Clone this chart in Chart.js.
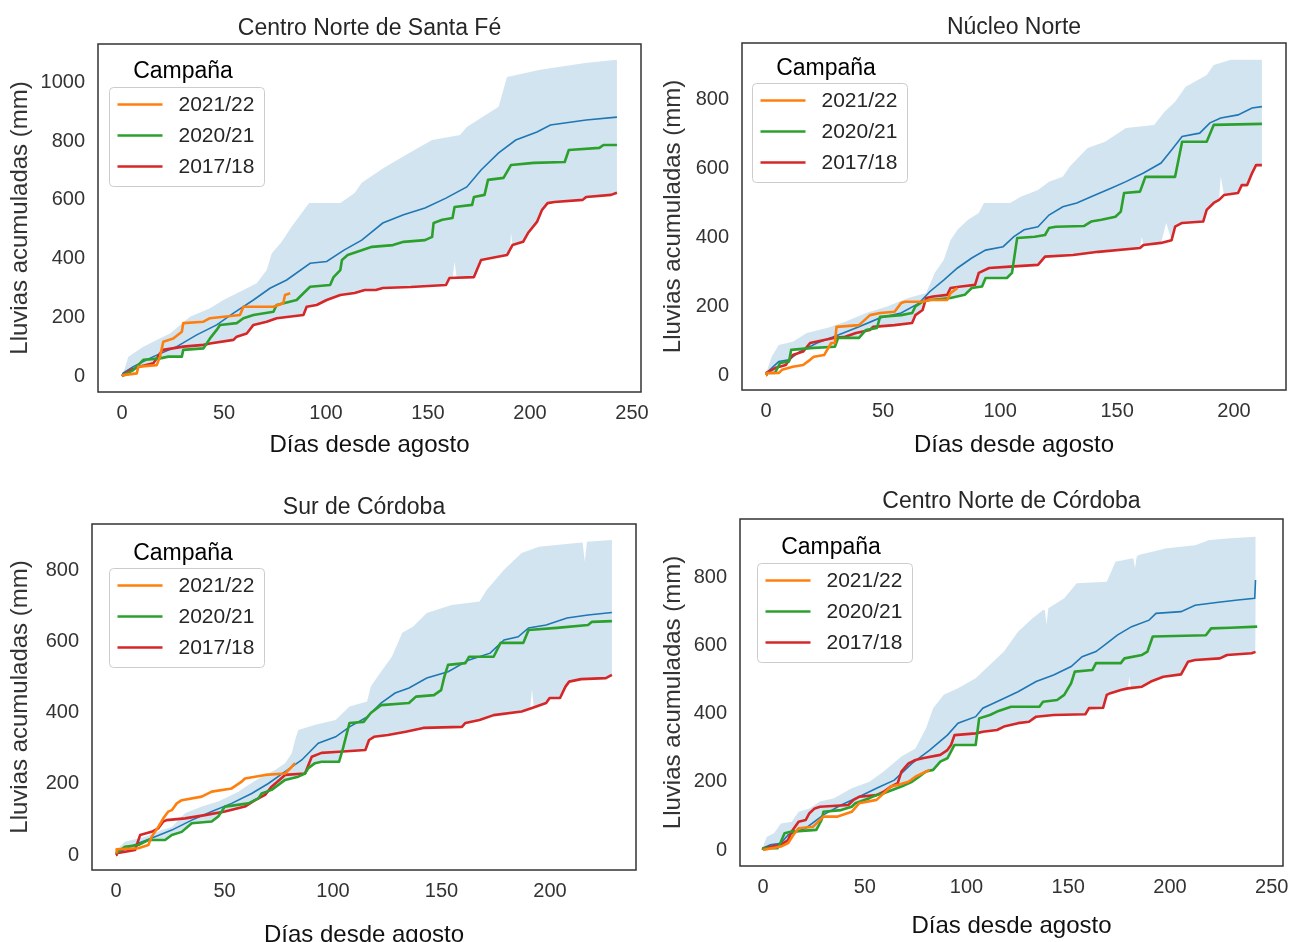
<!DOCTYPE html>
<html><head><meta charset="utf-8">
<script src="https://cdn.jsdelivr.net/npm/chart.js@4.4.1/dist/chart.umd.min.js"></script>
<style>
html,body{margin:0;padding:0;background:#fff;overflow:hidden;width:1293px;height:942px;position:relative;}
canvas{position:absolute;}
</style></head><body>
<canvas id="c1" width="655" height="470" style="left:0px;top:0px"></canvas>
<canvas id="c2" width="638" height="470" style="left:655px;top:0px"></canvas>
<canvas id="c3" width="655" height="490" style="left:0px;top:470px"></canvas>
<canvas id="c4" width="638" height="490" style="left:655px;top:470px"></canvas>
<script>
// ---------- texts ----------
const chartTitles = ['Centro Norte de Santa Fé', 'Núcleo Norte', 'Sur de Córdoba', 'Centro Norte de Córdoba'];
const xAxisTitle = 'Días desde agosto';
const yAxisTitle = 'Lluvias acumuladas (mm)';
const legendTitle = 'Campaña';
const campaigns = ['2021/22', '2020/21', '2017/18'];
const campaignColors = ['#ff7f0e', '#2ca02c', '#d62728'];

// ---------- ticks ----------
const xTicks250 = [0, 50, 100, 150, 200, 250];
const xTicks200 = [0, 50, 100, 150, 200];
const yTicks1000 = [0, 200, 400, 600, 800, 1000];
const yTicks800 = [0, 200, 400, 600, 800];

// ---------- Centro Norte de Santa Fé : [día, mm] ----------
const sf_mean = [[0,0],[0.5,10],[5.5,32],[15.3,66],[26.8,100],[36.6,140],[46.4,174],[54.6,214],[64.4,259],[72.5,299],[80.7,327],[92.2,384],[100.3,390],[108.8,429],[117.5,463],[127.8,521],[138,549],[148.5,572],[158.8,606],[169,644],[176,702],[184.6,760],[193,804],[203.4,831],[210,855],[227.5,872],[242.6,882]];
const sf_hi = [[0,0],[1,20],[3.1,66],[10.4,100],[17,123],[23.5,145],[33.3,202],[43.1,231],[49.7,259],[59.5,293],[66,316],[70.9,361],[73.4,418],[78,455],[83,508],[91.7,589],[107,589],[114,623],[117.5,658],[129,712],[141.6,763],[152,804],[165.7,821],[169,848],[184.6,917],[188.7,1019],[205,1043],[227,1066],[242.6,1077]];
const sf_lo = [[0,0],[3.9,15],[5.5,20],[8.8,32],[15.3,43],[18,55],[18.6,60],[22.7,66],[29.3,66],[30,89],[39.9,94],[43.1,111],[54.6,123],[56.2,134],[61.1,145],[64.4,174],[70.9,185],[75.8,197],[88.9,208],[90.5,236],[95.4,242],[100.3,259],[107,276],[114,283],[119,293],[124.4,293],[127.8,300],[141.6,303],[158.8,310],[160.5,334],[162,334],[163,388],[164,337],[172.5,337],[176,395],[181,402],[188.7,412],[190,412],[190.7,487],[191.4,446],[196.6,457],[199,487],[203.4,525],[205.9,566],[208.6,589],[212,593],[225.8,600],[227.5,610],[239.7,617],[242.6,624]];
const sf_2122 = [[0,0],[0.6,3],[7.2,9],[8,32],[17,37],[18.6,66],[20.2,117],[25.1,128],[29.3,151],[30,180],[39.9,185],[43.1,197],[57.8,208],[59.5,236],[74.2,236],[79,248],[79.9,276],[82.4,282]];
const sf_2021 = [[0,0],[5.5,20],[10.4,55],[18.6,60],[22.7,66],[29.3,66],[30,89],[39.9,94],[43.1,128],[46.4,157],[48,174],[56.2,180],[59.5,197],[64.4,208],[74.2,219],[75.8,242],[85.6,259],[88.9,282],[92.2,304],[102,310],[103.7,337],[107,361],[107.8,395],[110.6,412],[122.5,440],[132.8,446],[138,457],[148.5,463],[152,474],[152.7,521],[157,532],[162,538],[163,576],[171.6,583],[172.5,610],[177.7,617],[179.4,668],[187,675],[190.7,719],[201.8,726],[217,729],[219,770],[234,777],[236,787],[242.6,787]];
const sf_1718 = [[0,0],[3.9,20],[8.8,32],[15.3,43],[18.6,77],[20.2,89],[30,100],[39.9,106],[43.1,111],[54.6,123],[56.2,134],[61.1,145],[64.4,174],[70.9,185],[75.8,197],[88.9,208],[90.5,236],[95.4,242],[100.3,259],[107,276],[114,283],[119,293],[124.4,293],[127.8,300],[141.6,303],[158.8,310],[160.5,334],[172.5,337],[176,395],[181,402],[188.7,412],[191.4,446],[196.6,457],[199,487],[203.4,525],[205.9,566],[208.6,589],[212,593],[225.8,600],[227.5,610],[239.7,617],[242.6,624]];

// ---------- Núcleo Norte ----------
const nn_mean = [[0,5],[5.4,39],[9.8,44],[14.4,68],[21.8,93],[30.8,116],[39.7,140],[48.7,166],[57.7,180],[65.4,209],[69.9,242],[75.9,276],[81.8,311],[87.9,340],[93.8,363],[101.3,373],[105.9,402],[110.3,422],[116.2,431],[120.9,465],[126.8,489],[132.8,500],[138.9,518],[147.9,544],[153.8,562],[161.3,587],[168.8,616],[173.3,654],[177.8,693],[185.3,703],[189.7,733],[194.3,747],[201.7,756],[207.7,776],[211.9,780]];
const nn_hi = [[0,5],[2.4,53],[5.4,87],[11.4,97],[17.4,122],[26.4,137],[33.8,155],[42.7,180],[51.7,199],[60.7,224],[68.4,238],[72.1,297],[75.9,334],[78.8,392],[81.8,422],[86.3,451],[90.9,471],[93.1,500],[104.3,500],[108.8,518],[116.2,538],[120.9,562],[126.8,576],[129.8,606],[137.4,660],[144.9,678],[153.8,718],[165.8,727],[170.3,765],[174.8,794],[179.3,838],[188.3,872],[191.3,901],[198.7,916],[211.9,916]];
const nn_lo = [[0,0],[3.8,6],[6,35],[9.8,39],[10.7,73],[15.8,68],[18.8,78],[29.4,82],[30.8,108],[39.7,108],[42.7,131],[45.7,137],[48.7,140],[54.9,145],[62.4,151],[63.8,174],[66.9,189],[67.8,213],[69.9,218],[78.8,224],[84.9,233],[87.9,253],[92.3,257],[93.8,282],[102.9,282],[105.1,297],[105.6,315],[116.2,320],[119.2,344],[131.2,349],[141.9,358],[159.8,369],[160.6,402],[161.3,378],[168.8,384],[171,442],[173.3,392],[174.8,431],[177.8,442],[186.8,446],[188.3,480],[191.3,500],[193.6,509],[194.3,577],[195.7,523],[201.7,529],[203.3,552],[205.6,552],[207.7,587],[209.4,610],[211.9,610]];
const nn_2122 = [[0,0],[0.1,6],[5.4,6],[6.8,15],[11.4,24],[15.8,29],[18.8,44],[20.4,53],[24.8,58],[27.8,93],[29.4,93],[30.1,140],[39.7,145],[44.4,174],[48.7,180],[54.9,184],[57.7,209],[59.4,213],[66.9,213],[69.9,218],[77.4,218],[78.8,238],[81.8,253]];
const nn_2021 = [[0,0],[0.1,6],[3.8,6],[6,35],[9.8,39],[10.7,73],[18.8,78],[29.4,82],[30.8,108],[39.7,108],[42.7,131],[47.4,137],[48.7,169],[57.7,174],[62.4,180],[63.8,199],[66.9,213],[69.9,218],[78.8,224],[84.9,233],[87.9,253],[92.3,257],[93.8,282],[102.9,282],[105.1,297],[105.9,334],[107.3,398],[114.8,402],[119.2,407],[120.9,427],[123.8,431],[135.8,433],[138.9,446],[143.3,451],[149.3,460],[151.6,475],[153,529],[159.8,533],[162.1,576],[174.8,576],[177.8,678],[188.3,678],[191.3,727],[211.9,730]];
const nn_1718 = [[0,0],[0.1,6],[3.8,20],[8.4,29],[11.4,58],[15.8,68],[18.8,93],[24.8,102],[29.4,108],[33.8,111],[38.4,122],[44.4,131],[45.7,140],[54.9,145],[62.4,151],[63.8,174],[66.9,189],[68.4,224],[71.4,228],[77.4,233],[78.8,253],[83.3,257],[89.3,262],[90.9,297],[95.3,311],[104.3,315],[116.2,320],[119.2,344],[131.2,349],[141.9,358],[159.8,369],[161.3,378],[168.8,384],[173.3,392],[174.8,431],[177.8,442],[186.8,446],[188.3,480],[191.3,500],[193.6,509],[195.7,523],[201.7,529],[203.3,552],[205.6,552],[207.7,587],[209.4,610],[211.9,610]];

// ---------- Sur de Córdoba ----------
const sc_mean = [[0,5],[10.3,33],[18,51],[25.7,70],[34.9,98],[44.1,122],[53.3,145],[62.5,173],[70.2,201],[77.9,234],[85.6,267],[93.2,314],[101.2,332],[107.6,360],[115.7,388],[122.1,427],[128.6,455],[135,469],[143.2,497],[153,515],[162.7,548],[172.4,567],[178.8,604],[185.3,613],[190.1,638],[198.2,646],[207.8,666],[217.5,674],[228.5,681]];
const sc_hi = [[0,9],[0.3,14],[4.1,37],[13.4,51],[21.1,70],[25.7,79],[31.8,117],[39.5,136],[47.1,150],[56.4,178],[61,197],[67.1,220],[73.3,239],[77.9,258],[81,286],[82.5,323],[84,351],[91.5,365],[101.2,379],[107.6,417],[115.7,431],[117.4,473],[122.1,515],[127.1,557],[131.9,624],[136.8,641],[143.2,680],[154.6,702],[167.5,712],[170.7,744],[178.8,801],[186.9,848],[194.9,866],[211,876],[215,878],[216,824],[217,880],[228.5,885]];
const sc_lo = [[0,0],[4.1,9],[8.8,14],[10.3,28],[14.9,42],[22.6,42],[25.7,56],[30.3,65],[34.9,89],[41,94],[44.1,94],[47.1,108],[50.2,122],[59.4,136],[61,140],[64.1,154],[65.6,159],[67.1,165],[68.7,169],[71.7,183],[74.8,197],[77.9,211],[84,220],[87.1,229],[88.6,244],[91.7,258],[94.7,262],[102.8,262],[104.4,291],[114.9,295],[116.6,323],[118.9,332],[125.3,337],[133.5,346],[141.6,357],[159.4,360],[161,371],[167.5,379],[174,393],[186.9,403],[190.8,411],[191.7,465],[192.5,415],[198.2,427],[199.8,441],[204.6,441],[207.1,473],[208.8,487],[214.3,494],[225.7,497],[228.5,506]];
const sc_2122 = [[0,8],[0.3,16],[10.3,19],[14.9,28],[16.4,51],[19.5,79],[21.8,103],[24.1,122],[25.7,126],[28,145],[30.3,154],[39.5,164],[44.1,178],[53.3,187],[57.9,206],[59.4,215],[68.7,225],[77.9,229],[81,248],[82.5,258]];
const sc_2021 = [[0,5],[4.1,23],[10.3,28],[14.9,42],[22.6,42],[25.7,56],[30.3,65],[34.9,89],[44.1,94],[47.1,108],[50.2,136],[61,145],[65.6,159],[67.1,173],[71.7,183],[74.8,197],[77.9,211],[84,220],[87.1,229],[88.6,244],[91.7,258],[94.7,262],[102.8,262],[104.4,295],[107.6,371],[114.1,374],[117.4,399],[122.1,421],[135,427],[138.2,445],[146.5,449],[149.8,463],[151.3,501],[153,534],[161,539],[162.7,557],[174,557],[177.2,596],[187.7,596],[190.1,632],[203.1,638],[217.5,646],[219.3,655],[228.5,657]];
const sc_1718 = [[0,0],[0.3,5],[8.8,14],[11.1,56],[16.4,65],[19.5,75],[21.8,94],[23.3,98],[31.8,103],[41,112],[50.2,122],[59.4,136],[64.1,154],[68.7,169],[71.7,192],[77.9,225],[87.1,229],[90.2,276],[94.7,287],[102.8,290],[114.9,295],[116.6,323],[118.9,332],[125.3,337],[133.5,346],[141.6,357],[159.4,360],[161,371],[167.5,379],[174,393],[186.9,403],[191.7,413],[198.2,427],[199.8,441],[204.6,441],[207.1,473],[208.8,487],[214.3,494],[225.7,497],[228.5,506]];

// ---------- Centro Norte de Córdoba ----------
const cc_mean = [[0,5],[3.6,15],[8.8,20],[12.3,44],[21,64],[29.7,103],[38.4,132],[47.2,156],[55.8,181],[64.5,205],[73.2,254],[81.9,293],[90.6,337],[95.8,372],[104.5,391],[108,416],[116.7,440],[125.3,464],[134.2,494],[142.8,513],[151.4,538],[156.8,567],[163.6,582],[168.9,606],[174.1,630],[181.1,655],[189.7,674],[193.1,694],[205.4,699],[212.3,718],[222.8,726],[233.3,733],[241.6,738],[242,792]];
const cc_hi = [[0,10],[1.9,39],[5.4,49],[8.8,78],[14.1,83],[17.5,112],[22.8,122],[28,142],[34.9,152],[43.6,181],[52.3,200],[59.3,230],[68,274],[74.9,298],[80.1,357],[83.6,416],[88.8,455],[95.8,474],[104.5,504],[111.5,543],[118.4,582],[125.3,640],[132.3,679],[137.6,704],[138.5,704],[139.3,660],[140.2,709],[148,738],[154.1,782],[168.9,787],[173.2,845],[181.1,855],[182,855],[182.8,826],[183.6,860],[184.5,865],[198.4,885],[212.3,894],[219.3,909],[229.8,914],[242.8,919]];
const cc_lo = [[0,0],[7.1,5],[8.8,15],[12.3,29],[14.1,54],[26.2,59],[28.8,88],[29.7,112],[38.4,117],[43.6,127],[45.4,137],[52.3,152],[55.8,161],[59.3,166],[68,186],[73.2,200],[76.7,215],[80.1,230],[83.6,235],[87.1,259],[90.6,269],[94.1,308],[104.5,308],[105.5,342],[108,347],[115,352],[118.4,362],[125.3,372],[130.7,376],[134.2,391],[142.8,396],[158.4,398],[160.2,416],[167.1,417],[168.9,455],[170.7,460],[175.8,469],[179.3,474],[180,508],[180.8,475],[186.2,479],[190.6,494],[196.7,508],[205.4,515],[208.8,552],[212.3,557],[224.5,562],[228,572],[240.1,577],[242,581]];
const cc_2122 = [[0,0],[8.8,10],[12.3,20],[14.9,44],[17.5,64],[24.5,68],[28,88],[29.7,98],[36.7,98],[43.6,112],[47.2,137],[55.8,147],[59.3,166],[62.8,186],[66.2,191],[71.5,200],[74.9,215],[78.4,225],[81.9,235]];
const cc_2021 = [[0,0],[0.1,5],[7.1,5],[8.8,24],[10.6,49],[14.1,54],[26.2,59],[28.8,88],[29.7,112],[38.4,117],[43.6,127],[45.4,137],[52.3,152],[55.8,161],[59.3,166],[68,186],[73.2,200],[76.7,215],[80.1,230],[83.6,235],[87.1,259],[90.6,269],[94.1,308],[104.5,308],[106.2,386],[111.5,396],[115,406],[121.9,420],[135.8,420],[137.6,435],[144.5,440],[148,455],[151.4,489],[153.2,523],[161.9,528],[163.6,548],[175.8,548],[177.6,562],[186.2,572],[188.9,582],[191.5,626],[217.6,630],[220.2,650],[229.8,652],[242.8,655]];
const cc_1718 = [[0,0],[0.1,5],[8.8,15],[12.3,29],[14.1,54],[17.5,83],[21,88],[22.8,108],[25.4,122],[28,127],[41.9,132],[44.5,147],[47.2,156],[55.8,161],[59.3,171],[62.8,186],[66.2,196],[68,230],[71.5,254],[74.9,264],[78.4,269],[87.1,279],[90.6,293],[92.4,308],[94.1,337],[104.5,342],[108,347],[115,352],[118.4,362],[125.3,372],[130.7,376],[134.2,391],[142.8,396],[158.4,398],[160.2,416],[167.1,417],[168.9,455],[170.7,460],[175.8,469],[179.3,474],[186.2,479],[190.6,494],[196.7,508],[205.4,515],[208.8,552],[212.3,557],[224.5,562],[228,572],[240.1,577],[242,581]];

// ---------- rendering ----------
const FONT = '"Liberation Sans", Arial, Helvetica, sans-serif';
const toXY = a => a.map(p => ({x: p[0], y: p[1]}));

const framePlugin = {
  id: 'frameBox',
  afterDraw(chart) {
    const {ctx, chartArea: a} = chart;
    ctx.save();
    ctx.strokeStyle = '#333333';
    ctx.lineWidth = 1.5;
    ctx.strokeRect(a.left, a.top, a.right - a.left, a.bottom - a.top);
    ctx.restore();
  }
};

const legendPlugin = {
  id: 'campLegend',
  afterDatasetsDraw(chart, args, o) {
    const {ctx, chartArea: a} = chart;
    const bw = 155, bh = 99;
    const bx = Math.round(a.left + o.dx) + 0.5, by = Math.round(a.top + o.dy) + 0.5;
    ctx.save();
    ctx.fillStyle = 'rgba(255,255,255,0.85)';
    ctx.strokeStyle = '#cccccc';
    ctx.lineWidth = 1;
    ctx.beginPath();
    ctx.roundRect(bx, by, bw, bh, 4);
    ctx.fill();
    ctx.stroke();
    ctx.fillStyle = '#000000';
    ctx.font = '23px ' + FONT;
    ctx.textAlign = 'center';
    ctx.textBaseline = 'middle';
    ctx.fillText(legendTitle, bx + bw / 2 - 4, a.top + o.ty + 2);
    ctx.font = '21px ' + FONT;
    ctx.textAlign = 'left';
    const items = chart.data.datasets.filter(d => campaigns.includes(d.label));
    items.forEach((d, i) => {
      const y = by + 17 + i * 31;
      ctx.strokeStyle = d.borderColor;
      ctx.lineWidth = 2.5;
      ctx.beginPath();
      ctx.moveTo(bx + 8, y);
      ctx.lineTo(bx + 53, y);
      ctx.stroke();
      ctx.fillStyle = '#262626';
      ctx.fillText(d.label, bx + 69, y + 1);
    });
    ctx.restore();
  }
};

function makeChart(id, title, series, lay) {
  const [cl, ct, cw, ch] = lay.canvas;
  const [fl, ft, fr, fb] = lay.frame;
  const tLH = 23 * 1.2, aLH = 24 * 1.2;
  const tPadTop = lay.titleY + 2 - ct - tLH / 2;
  const tPadBot = ft - ct - tPadTop - tLH;
  const datasets = [
    {label: 'min', data: toXY(series.lo), borderWidth: 0, pointRadius: 0, fill: false, order: 10},
    {label: 'max', data: toXY(series.hi), borderWidth: 0, pointRadius: 0, fill: '-1',
     backgroundColor: 'rgba(31,119,180,0.2)', order: 9},
    {label: 'media', data: toXY(series.mean), borderColor: '#1f77b4', borderWidth: 1.6, pointRadius: 0, fill: false, order: 5},
  ];
  series.camps.forEach((arr, i) => {
    datasets.push({label: campaigns[i], data: toXY(arr), borderColor: campaignColors[i],
      borderWidth: 2.6, pointRadius: 0, fill: false, order: 1 + i, borderJoinStyle: 'round'});
  });
  return new Chart(document.getElementById(id), {
    type: 'line',
    data: {datasets},
    plugins: [legendPlugin, framePlugin],
    options: {
      responsive: false, animation: false, devicePixelRatio: 1,
      events: [],
      layout: {padding: {left: 0, top: 0, bottom: 0, right: cl + cw - fr}},
      elements: {line: {tension: 0}},
      plugins: {
        legend: {display: false},
        tooltip: {enabled: false},
        title: {display: true, text: title, fullSize: false, color: '#262626',
                font: {family: FONT, size: 23, weight: 'normal'},
                padding: {top: tPadTop, bottom: tPadBot}},
        campLegend: lay.legend
      },
      scales: {
        x: {
          type: 'linear', min: lay.xr[0], max: lay.xr[1],
          grid: {display: false, drawTicks: false}, border: {display: false},
          ticks: {font: {family: FONT, size: 20}, color: '#333333', padding: 9, autoSkip: false, maxRotation: 0,
                  callback: v => String(v)},
          afterBuildTicks: s => { s.ticks = lay.xt.map(v => ({value: v})); },
          afterFit: s => { s.height = ct + ch - fb; s.paddingLeft = 0; s.paddingRight = 0; },
          title: {display: true, text: xAxisTitle, color: '#111111', font: {family: FONT, size: 24},
                  padding: {top: 0, bottom: ct + ch - lay.xTitleY - aLH / 2}}
        },
        y: {
          type: 'linear', min: lay.yr[0], max: lay.yr[1],
          grid: {display: false, drawTicks: false}, border: {display: false},
          ticks: {font: {family: FONT, size: 20}, color: '#333333', padding: 13, autoSkip: false,
                  callback: v => String(v)},
          afterBuildTicks: s => { s.ticks = lay.yt.map(v => ({value: v})); },
          afterFit: s => { s.width = fl - cl; s.paddingTop = 0; s.paddingBottom = 0; },
          title: {display: true, text: yAxisTitle, color: '#333333', font: {family: FONT, size: 24},
                  padding: {top: lay.yTitleX - cl - aLH / 2, bottom: 0}}
        }
      }
    }
  });
}

makeChart('c1', chartTitles[0],
  {lo: sf_lo, hi: sf_hi, mean: sf_mean, camps: [sf_2122, sf_2021, sf_1718]},
  {canvas: [0, 0, 655, 470], frame: [98, 44, 641, 392], titleY: 27, xTitleY: 445, yTitleX: 20,
   xr: [-11.8, 254.4], yr: [-54.5, 1131], xt: xTicks250, yt: yTicks1000, legend: {dx: 11, dy: 43, ty: 26}});
makeChart('c2', chartTitles[1],
  {lo: nn_lo, hi: nn_hi, mean: nn_mean, camps: [nn_2122, nn_2021, nn_1718]},
  {canvas: [655, 0, 638, 470], frame: [742, 43, 1286, 390], titleY: 26, xTitleY: 445, yTitleX: 673,
   xr: [-10.3, 222.2], yr: [-43.6, 965], xt: xTicks200, yt: yTicks800, legend: {dx: 9.6, dy: 40.3, ty: 23.7}});
makeChart('c3', chartTitles[2],
  {lo: sc_lo, hi: sc_hi, mean: sc_mean, camps: [sc_2122, sc_2021, sc_1718]},
  {canvas: [0, 470, 655, 490], frame: [92, 524, 636, 870], titleY: 506, xTitleY: 935, yTitleX: 20,
   xr: [-11.06, 239.6], yr: [-42.1, 929.8], xt: xTicks200, yt: yTicks800, legend: {dx: 17.3, dy: 44.3, ty: 27.7}});
makeChart('c4', chartTitles[3],
  {lo: cc_lo, hi: cc_hi, mean: cc_mean, camps: [cc_2122, cc_2021, cc_1718]},
  {canvas: [655, 470, 638, 490], frame: [740, 519, 1283, 866], titleY: 500, xTitleY: 926, yTitleX: 673,
   xr: [-11.3, 255.5], yr: [-46.9, 970.7], xt: xTicks250, yt: yTicks800, legend: {dx: 17, dy: 43.7, ty: 27}});
</script>
</body></html>
